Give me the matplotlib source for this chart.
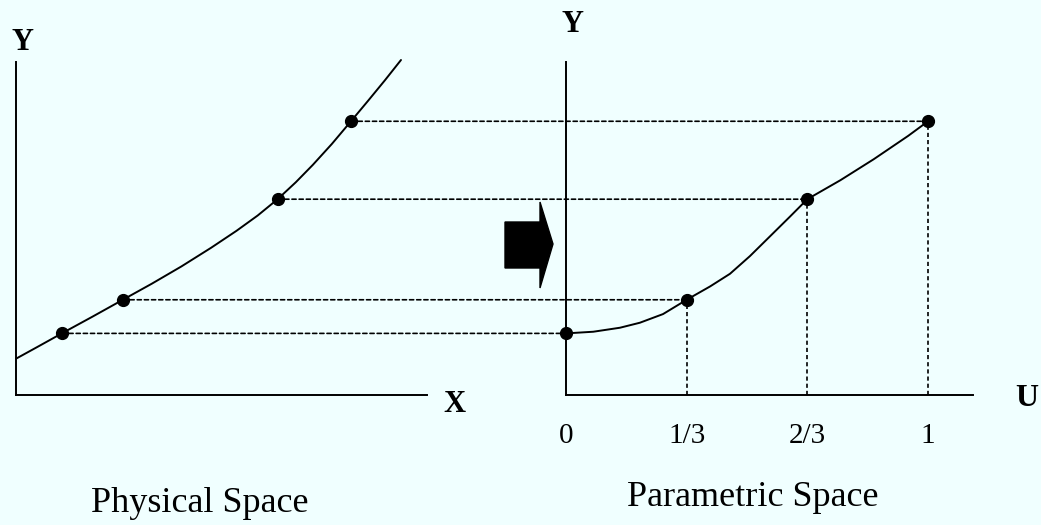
import numpy as np
import matplotlib
matplotlib.use("Agg")
import matplotlib.pyplot as plt
from matplotlib.patches import ConnectionPatch, Polygon

# data
# physical space curve (x, y)
phys_x = [0, 0.5, 1.08, 1.8, 2.52, 3.2, 3.9, 4.6, 5.2, 5.7, 6.17,
          6.6, 7.0, 7.45, 7.90, 8.3, 8.7, 9.08]
phys_y = [1.09, 1.44, 1.85, 2.35, 2.86, 3.34, 3.86, 4.42, 4.93, 5.39, 5.88,
          6.39, 6.91, 7.54, 8.22, 8.83, 9.45, 10.06]
# parametric space curve (u, y)
par_u = [0, 0.0754, 0.149, 0.204, 0.268, 1/3, 0.398, 0.453, 0.508, 0.564,
         0.619, 2/3, 0.758, 0.850, 0.945, 1]
par_y = [1.85, 1.90, 2.02, 2.17, 2.43, 2.86, 3.26, 3.64, 4.17, 4.77,
         5.36, 5.88, 6.45, 7.08, 7.78, 8.22]
# sample points
pt_x = [1.08, 2.52, 6.17, 7.90]
pt_u = [0, 1/3, 2/3, 1]
pt_y = [1.85, 2.86, 5.88, 8.22]
u_labels = ['0', '1/3', '2/3', '1']

bg = '#F0FFFF'
W, H = 1041, 525
plt.rcParams['font.family'] = ['Liberation Serif', 'DejaVu Serif']

fig = plt.figure(figsize=(W / 100, H / 100), dpi=100, facecolor=bg)

def frac(px, py):
    return px / W, (H - py) / H

ax1 = fig.add_axes([16 / W, (H - 395) / H, 411 / W, 333 / H])
ax2 = fig.add_axes([566 / W, (H - 395) / H, 407 / W, 333 / H])

dash = (0, (2.5, 1.8))
for ax in (ax1, ax2):
    ax.set_facecolor(bg)
    ax.patch.set_alpha(0)
    for s in ('top', 'right'):
        ax.spines[s].set_visible(False)
    for s in ('left', 'bottom'):
        ax.spines[s].set_linewidth(1.4)
    ax.set_ylim(0, 10)
    ax.set_yticks([])

ax1.set_xlim(0, 411 / 42.4)
ax1.set_xticks([])
ax2.set_xlim(0, 407 / 362)
ax2.set_xticks(pt_u, u_labels)
ax2.tick_params(axis='x', length=0, pad=20, labelsize=21)

ax1.plot(phys_x, phys_y, color='black', lw=1.4, clip_on=False,
         solid_joinstyle='round', solid_capstyle='round')
ax1.plot(pt_x, pt_y, 'o', color='black', ms=8.5, clip_on=False)
ax2.plot(par_u, par_y, color='black', lw=1.4, clip_on=False,
         solid_joinstyle='round', solid_capstyle='round')
ax2.plot(pt_u, pt_y, 'o', color='black', ms=8.5, clip_on=False, zorder=5)

# dashed links between the two spaces
for x, u, y in zip(pt_x, pt_u, pt_y):
    con = ConnectionPatch(xyA=(x, y), coordsA=ax1.transData,
                          xyB=(u, y), coordsB=ax2.transData,
                          color='black', lw=1.2, linestyle=dash)
    fig.add_artist(con)
ax2.vlines(pt_u[1:], 0, pt_y[1:], color='black', lw=1.2, linestyles=[dash])

# big arrow
arrow_px = [(505, 222), (540, 222), (540, 202), (553, 244),
            (540, 288), (540, 268), (505, 268)]
fig.add_artist(Polygon([frac(*p) for p in arrow_px], closed=True,
                       transform=fig.transFigure, color='black'))

fig.text(*frac(23, 43), 'Y', ha='center', va='center', fontsize=22, fontweight='bold')
fig.text(*frac(454, 404), 'X', ha='center', va='center', fontsize=22, fontweight='bold')
fig.text(*frac(572, 25), 'Y', ha='center', va='center', fontsize=22, fontweight='bold')
fig.text(*frac(1027, 398), 'U', ha='center', va='center', fontsize=23, fontweight='bold')
fig.text(*frac(200, 503), 'Physical Space', ha='center', va='center', fontsize=26)
fig.text(*frac(753, 497), 'Parametric Space', ha='center', va='center', fontsize=26)

fig.savefig('out.png', dpi=100, facecolor=bg)
